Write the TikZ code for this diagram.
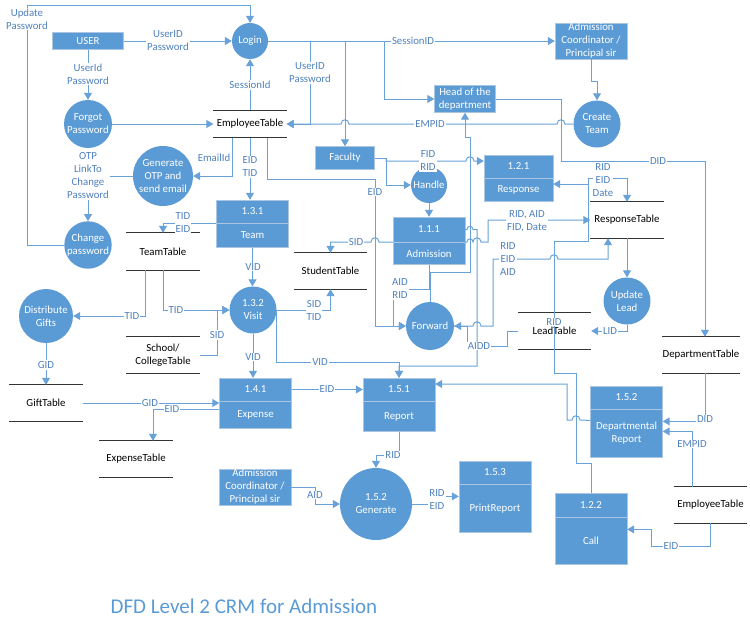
\documentclass[tikz,border=0pt]{standalone}
\usepackage{fontspec}
\setmainfont{Carlito}
\usetikzlibrary{positioning,arrows.meta}
\definecolor{boxblue}{RGB}{91,155,213}
\definecolor{boxedge}{RGB}{170,198,226}
\definecolor{flowblue}{RGB}{104,162,216}
\definecolor{lblblue}{RGB}{79,129,189}

\begin{document}
\begin{tikzpicture}[x=1pt, y=-1pt, font=\fontsize{10.8}{13}\selectfont,
  proc/.style={circle, fill=boxblue, text=white, inner sep=0pt, align=center},
  ent/.style={rectangle, fill=boxblue, draw=boxedge, text=white, inner sep=0pt, align=center},
  pbox/.style={rectangle, fill=boxblue, draw=boxedge, text=white, inner sep=0pt, minimum width=72pt, align=center},
  store/.style={rectangle, inner sep=0pt, minimum width=73pt, align=center},
  storeline/.style={draw=black!80, line width=1pt},
  flow/.style={draw=flowblue, line width=1pt, -{Triangle[length=7pt,width=8pt]}},
  link/.style={draw=flowblue, line width=1pt},
  lbl/.style={fill=white, text=lblblue, inner sep=1pt, align=center},
  hop/.style={out=90, in=90, looseness=1.8}]

\fill [white] (0,0) rectangle (750,630);
\useasboundingbox (0,0) rectangle (750,630);

%%% PROCESSES
\node [proc, minimum size=36pt] (login) at (250,41) {Login};
\node [proc, minimum size=48pt] (forgot) at (88,124) {Forgot\\Password};
\node [proc, minimum size=60pt] (genotp) at (163,176) {Generate\\OTP and\\send email};
\node [proc, minimum size=46pt] (chpw) at (88,245) {Change\\password};
\node [proc, minimum size=47pt] (crteam) at (597,124) {Create\\Team};
\node [proc, minimum size=36pt] (handle) at (429,185) {Handle};
\node [proc, minimum size=48pt] (forward) at (430,326) {Forward};
\node [proc, minimum size=47pt] (updlead) at (627,301) {Update\\Lead};
\node [proc, minimum size=54pt] (gifts) at (46,316) {Distribute\\Gifts};
\node [proc, minimum size=47pt] (visit) at (253,310) {1.3.2\\Visit};
\node [proc, minimum size=72pt] (generate) at (376,504) {1.5.2\\Generate};

%%% EXTERNAL ENTITIES
\node [ent, minimum width=71pt, minimum height=17pt] (user) at (88,41) {USER};
\node [ent, minimum width=72pt, minimum height=36pt] (ac-top) at (591,41) {Admission\\Coordinator /\\Principal sir};
\node [ent, minimum width=61pt, minimum height=27pt] (hod) at (465,99) {Head of the\\department};
\node [ent, minimum width=59pt, minimum height=23pt] (faculty) at (345,158) {Faculty};
\node [ent, minimum width=72pt, minimum height=36pt] (ac-bot) at (255,487) {Admission\\Coordinator /\\Principal sir};

%%% NUMBERED PROCESSES
\node [pbox, minimum height=23pt] (team) at (252.5,211.5) {1.3.1};
\node [pbox, minimum height=24pt, anchor=north] (team-sub) at (team.south) {Team};
\node [pbox, minimum width=69pt, minimum height=23pt] (response) at (518.5,166.5) {1.2.1};
\node [pbox, minimum width=69pt, minimum height=23pt, anchor=north] (response-sub) at (response.south) {Response};
\node [pbox, minimum height=25pt] (adm) at (429,229.5) {1.1.1};
\node [pbox, minimum height=22pt, anchor=north] (adm-sub) at (adm.south) {Admission};
\node [pbox, minimum height=23pt] (expense) at (255.5,389.5) {1.4.1};
\node [pbox, minimum height=27pt, anchor=north] (expense-sub) at (expense.south) {Expense};
\node [pbox, minimum height=23pt] (report) at (399,389.5) {1.5.1};
\node [pbox, minimum height=30pt, anchor=north] (report-sub) at (report.south) {Report};
\node [pbox, minimum height=23pt] (deprep) at (626.5,397.5) {1.5.2};
\node [pbox, minimum height=48pt, anchor=north] (deprep-sub) at (deprep.south) {Departmental\\Report};
\node [pbox, minimum height=23pt] (printrep) at (495,472.5) {1.5.3};
\node [pbox, minimum height=48pt, anchor=north] (printrep-sub) at (printrep.south) {PrintReport};
\node [pbox, minimum height=24pt] (call) at (591,505) {1.2.2};
\node [pbox, minimum height=47pt, anchor=north] (call-sub) at (call.south) {Call};

%%% DATA STORES
\node [store, minimum height=27pt] (emptab) at (250,124) {EmployeeTable};
\node [store, minimum height=37pt] (teamtab) at (163,251.5) {TeamTable};
\node [store, minimum height=36pt] (studtab) at (330.5,271) {StudentTable};
\node [store, minimum height=36pt] (schooltab) at (163,355) {School/\\CollegeTable};
\node [store, minimum height=36pt] (gifttab) at (46,403) {GiftTable};
\node [store, minimum height=36pt] (exptab) at (136,459) {ExpenseTable};
\node [store, minimum height=36pt] (resptab) at (627,220) {ResponseTable};
\node [store, minimum height=36pt] (leadtab) at (554.5,331) {LeadTable};
\node [store, minimum width=77pt, minimum height=36pt] (depttab) at (701,355) {DepartmentTable};
\node [store, minimum height=36pt] (emptab2) at (710.5,505) {EmployeeTable};

\foreach \s in {emptab,teamtab,studtab,schooltab,gifttab,exptab,resptab,leadtab,depttab,emptab2}
  \draw [storeline] (\s.north west) -- (\s.north east) (\s.south west) -- (\s.south east);

%%% connections, arrows
\coordinate (sess-emp) at (310,41);
\coordinate (sess-fac) at (345,41);
\coordinate (sess-hod) at (384,41);
\coordinate (fac-split) at (386,158);
\coordinate (call-split) at (588,184);

\draw [flow] (chpw.west) -| (27,5) -| (login.north);
\draw [flow] (user.east) -- (login.west);
\draw [flow] (user.south) -- (forgot.north);
\draw [flow] (forgot.east) -- (emptab.west);
\draw [flow] (emptab.north) -- (login.south);
\draw [flow] (login.east) -- (ac-top.west);
\draw [flow] (sess-emp) |- (emptab.east);
\draw [flow] (sess-fac) -- (faculty.north);
\draw [flow] (sess-hod) |- (hod.west);
\draw [flow] (ac-top.south) -- ++(0,22) -| (crteam.north);
\draw [flow] (crteam.west) -- (565,124) to[hop] (557,124) -- (349,124) to[hop] (341,124) -- (emptab.east);
\draw [flow] (hod.east) -| (561,161) -| ([xshift=4pt]depttab.north);

\draw [flow] ([xshift=-18pt]emptab.south) |- (genotp.east);
\draw [flow] (emptab.south) -- (emptab.south |- team.north);
\draw [flow] ([xshift=17pt]emptab.south) |- (375,179) |- (forward.west);
\draw [flow] (genotp.west) -| (chpw.north);

\draw [flow] (team.south west) -| (teamtab.north);
\draw [flow] ([xshift=-18pt]teamtab.south) |- (gifts.east);
\draw [flow] (teamtab.south) |- (visit.west);
\draw [flow] (schooltab.east) -| (217,310) -- (visit.west);
\draw [flow] (team-sub.south) -- (team-sub.south |- visit.north);
\draw [flow] (visit.east) -| (studtab.south);
\draw [flow] (adm.south west) -- (379,242) to[hop] (371,242) -| (studtab.north);
\draw [flow] (visit.south) -- (visit.south |- expense.north);
\draw [flow] (visit.east) |- (399,362) -- (report.north);

\draw [link] (faculty.east) -- (fac-split);
\draw [flow] (fac-split) |- (466,161) to[hop] (474,161) -- ([yshift=5.5pt]response.west);
\draw [flow] (fac-split) |- (handle.west);
\draw [flow] (handle.south) -- (adm.north);
\draw [flow] (adm-sub.south) |- (393,289) |- (forward.west);
\draw [flow] (forward.north) |- (470,272) -- (470,137) -| (hod.south);
\draw [flow] (adm.east) -- (467,229.5) to[hop] (473,229.5) -- (477,229.5) |- (399,366) -- (report.north);
\draw [flow] (adm.south east) -- (467,242) to[hop] (473,242) to[hop] (481,242) -- (488,242) |- (resptab.west);
\draw [flow] (forward.east) -- (473,326) to[hop] (481,326) -- (493,326) |- (550,259) to[hop] (558,259) -| ([xshift=-19pt]resptab.south);
\draw [flow] (leadtab.west) -| (507,346) -| (467,326) -- (forward.east);
\draw [flow] (resptab.south) -- (updlead.north);
\draw [flow] (updlead.south) |- (leadtab.east);
\draw [flow] (call.north) |- (576,463) |- (554,373) |- (588,241) -- (call-split) -- (call-split -| response.east);
\draw [flow] (call-split) -- (588,178) -| (resptab.north);

\draw [flow] (expense.east) -- (report.west);
\draw [flow] (gifttab.east) -- (gifttab.east -| expense.west);
\draw [flow] ([yshift=5.5pt]expense-sub.west) -| ([xshift=17pt]exptab.north);
\draw [flow] (gifts.south) -- (gifttab.north);
\draw [flow] (report-sub.south) -- ++(0,24) -| (generate.north);
\draw [flow] (ac-bot.east) -| (315,504) -- (generate.west);
\draw [flow] (generate.east) -- (437,504) |- ([yshift=12pt]printrep-sub.west);
\draw [flow] ([yshift=13pt]deprep-sub.west) -- (580,420) to[hop] (572,420) -- (567,420) |- ([yshift=5.5pt]report.east);
\draw [flow] (emptab2.south) |- (651,546) |- ([yshift=11.5pt]call-sub.east);
\draw [flow] ([xshift=-18pt]emptab2.north) |- ([yshift=2pt]deprep-sub.east);
\draw [flow] ([xshift=4pt]depttab.south) |- ([yshift=12pt]deprep-sub.east);

%%% labels
\node [lbl] (l-updpw) at (27,19) {Update\\Password};
\node [lbl] (l-userlogin) at (168,41) {UserID\\Password};
\node [lbl] (l-userforgot) at (88,74) {UserId\\Password};
\node [lbl] (l-sessid) at (250,85) {SessionId};
\node [lbl] (l-useremp) at (310,73) {UserID\\Password};
\node [lbl] (l-sessac) at (413,41) {SessionID};
\node [lbl] (l-empid) at (430,124) {EMPID};
\node [lbl] (l-email) at (214,158) {EmailId};
\node [lbl] (l-eidtid) at (250,167) {EID\\TID};
\node [lbl] (l-eidfwd) at (375,192) {EID};
\node [lbl] (l-otp) at (88,176) {OTP\\LinkTo\\Change\\Password};
\node [lbl] (l-tideid) at (183,223) {TID\\EID};
\node [lbl] (l-tidgift) at (132,316) {TID};
\node [lbl] (l-tidvisit) at (176,310) {TID};
\node [lbl] (l-sidschool) at (217,335) {SID};
\node [lbl] (l-vidteam) at (253,267) {VID};
\node [lbl] (l-sidtid) at (314,310) {SID\\TID};
\node [lbl] (l-sidadm) at (356,242) {SID};
\node [lbl] (l-videxp) at (253,357) {VID};
\node [lbl] (l-vidrep) at (320,362) {VID};
\node [lbl] (l-eidrep) at (327,389.5) {EID};
\node [lbl] (l-gid) at (150,403) {GID};
\node [lbl] (l-eidexp) at (172,409) {EID};
\node [lbl] (l-gidstore) at (46,365) {GID};
\node [lbl] (l-ridgen) at (393,455) {RID};
\node [lbl] (l-aidgen) at (315,495) {AID};
\node [lbl] (l-rideid) at (437,500) {RID\\EID};
\node [lbl] (l-eidcall) at (671,546) {EID};
\node [lbl] (l-empidrep) at (692,444) {EMPID};
\node [lbl] (l-didrep) at (705,419) {DID};
\node [lbl] (l-diddept) at (658,161) {DID};
\node [lbl] (l-fidrid) at (428,161) {FID\\RID};
\node [lbl] (l-aidrid) at (400,289) {AID\\RID};
\node [lbl] (l-respadm) at (527,221) {RID, AID\\FID, Date};
\node [lbl] (l-ridfwd) at (508,259) {RID\\EID\\AID};
\node [lbl] (l-aidd) at (479,346) {AIDD};
\node [lbl] (l-lid) at (610,331) {LID};
\node [lbl] (l-ridcall) at (554,322) {RID};
\node [lbl, inner sep=0pt] (l-ridresp) at (603,180) {RID\\EID\\Date};

%%% TITLE
\node [text=boxblue, font=\fontsize{21}{24}\selectfont] (title) at (244,606) {DFD Level 2 CRM for Admission};

\end{tikzpicture}
\end{document}
